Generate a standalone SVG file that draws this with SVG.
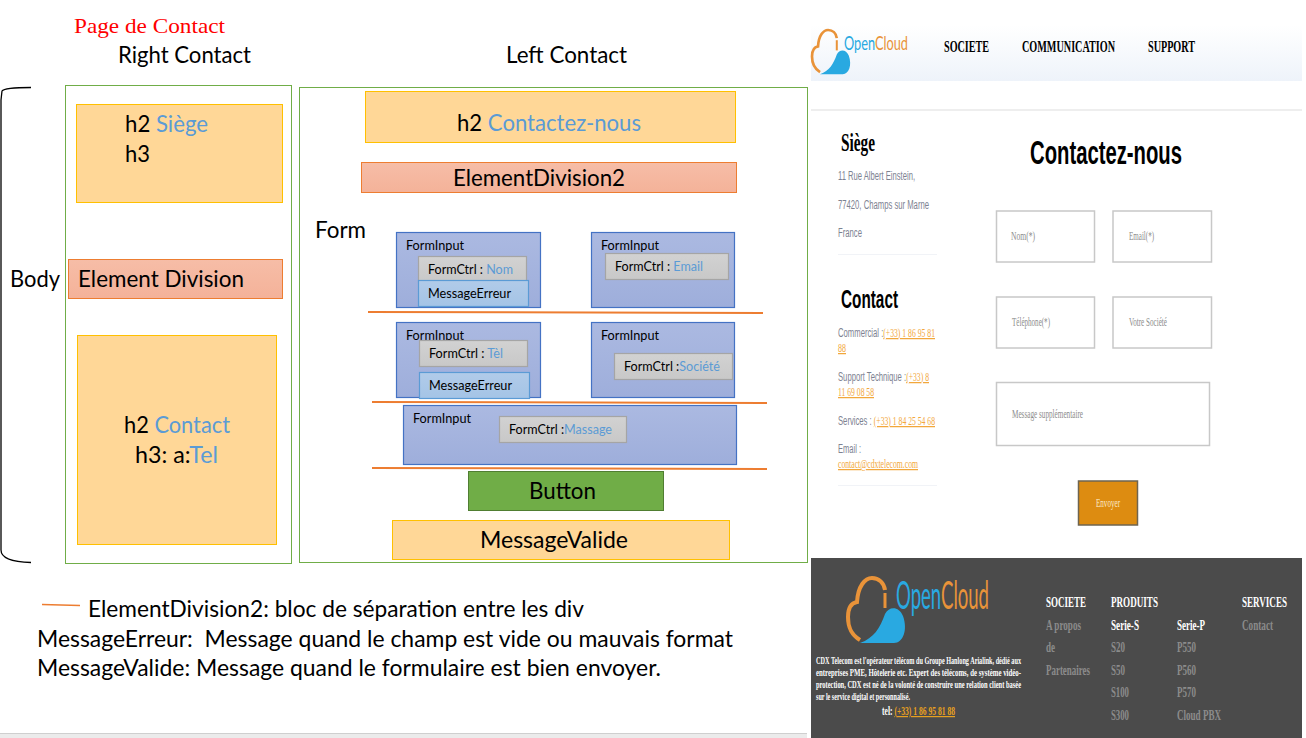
<svg xmlns="http://www.w3.org/2000/svg" width="1306" height="738" viewBox="0 0 1306 738">
<style>
text{font-family:"Lato","Carlito","Open Sans",sans-serif;fill:#000}
.b{fill:#5b9bd5}
.t22{font-size:23px}
.t13{font-size:13px}
.wrap{fill:none;stroke:#70ad47;stroke-width:1}
.y{fill:#ffd797;stroke:#ffc000;stroke-width:1}
.o{fill:url(#go);stroke:#ed7d31;stroke-width:1}
.fi{fill:url(#gfi);stroke:#4472c4;stroke-width:1.2}
.fc{fill:url(#gfc);stroke:#a5a5a5;stroke-width:1.2}
.me{fill:url(#gme);stroke:#5b9bd5;stroke-width:1.2}
.sep{stroke:#ed7d31;stroke-width:2;fill:none}
.g{fill:#7d8291;font-size:12.5px;font-family:"Liberation Sans",sans-serif}
.l{fill:#f2a73c;font-size:12.5px;font-family:"Liberation Serif",serif;text-decoration:underline}
.ph{fill:#8c8c8c;font-size:12.5px;font-family:"Liberation Serif",serif}
.box{fill:#fff;stroke:#c8c8c8;stroke-width:1.5}
.w{fill:#fff;font-family:"Liberation Serif",serif;font-weight:bold}
.d{fill:#8b8b8b;font-family:"Liberation Serif",serif;font-weight:bold;font-size:15px}
</style>
<defs>
<linearGradient id="hdr" x1="0" y1="0" x2="0" y2="1"><stop offset="0" stop-color="#fff"/><stop offset="1" stop-color="#eef3fa"/></linearGradient>
<linearGradient id="go" x1="0" y1="0" x2="0" y2="1"><stop offset="0" stop-color="#f6bda7"/><stop offset="1" stop-color="#f4b299"/></linearGradient>
<linearGradient id="gfi" x1="0" y1="0" x2="0" y2="1"><stop offset="0" stop-color="#abb9e1"/><stop offset="1" stop-color="#9eaedb"/></linearGradient>
<linearGradient id="gfc" x1="0" y1="0" x2="0" y2="1"><stop offset="0" stop-color="#d2d2d2"/><stop offset="1" stop-color="#c8c8c8"/></linearGradient>
<linearGradient id="gme" x1="0" y1="0" x2="0" y2="1"><stop offset="0" stop-color="#b1cbe9"/><stop offset="1" stop-color="#a4c4e6"/></linearGradient>
<g id="cloud"><path d="M12 62C2 56 0 48 0 39C0 30 3 25 9 24C10 8 17 0 24 0C31 0 36 5 37 12" fill="none" stroke="#e99339" stroke-width="4"/><path d="M37 15V30" fill="none" stroke="#e99339" stroke-width="3"/><path d="M12 65C26 60 32 50 37 36C41 28 51 28 55 38C60 52 55 65 46 65Z" fill="#29a9e1"/></g>
</defs>

<g id="title"><text x="74" y="33" style="font-family:'Liberation Serif',serif;font-size:22px;fill:#f00" textLength="151" lengthAdjust="spacingAndGlyphs">Page de Contact</text>
<text x="118" y="63" class="t22" textLength="133" lengthAdjust="spacingAndGlyphs">Right Contact</text>
<text x="506" y="63" class="t22" textLength="121" lengthAdjust="spacingAndGlyphs">Left Contact</text></g>

<g id="body"><path d="M31 87.500C15 87.500 4 88 2 91L1 100V550C1 558 12 562 31 562.500" fill="none" stroke="#000" stroke-width="1.300"/>
<text x="10" y="287" class="t22" textLength="50" lengthAdjust="spacingAndGlyphs">Body</text></g>

<g id="right-contact"><rect class="wrap" x="65.500" y="85.500" width="226" height="478"/></g>
<g id="left-contact"><rect class="wrap" x="299.500" y="87.500" width="508" height="475"/></g>

<g id="siege"><rect class="y" x="76.500" y="104.500" width="206" height="98"/>
<text x="125" y="132" class="t22" textLength="83" lengthAdjust="spacingAndGlyphs">h2 <tspan class="b">Siège</tspan></text><text x="125" y="162" class="t22" textLength="25" lengthAdjust="spacingAndGlyphs">h3</text></g>
<g id="element-division"><rect class="o" x="68.500" y="259.500" width="214" height="39"/>
<text x="78" y="287" class="t22" textLength="166" lengthAdjust="spacingAndGlyphs">Element Division</text></g>
<g id="contact"><rect class="y" x="77.500" y="335.500" width="199" height="209"/>
<text x="124" y="433" class="t22" textLength="106" lengthAdjust="spacingAndGlyphs">h2 <tspan class="b">Contact</tspan></text><text x="135" y="463" class="t22" textLength="83" lengthAdjust="spacingAndGlyphs">h3: a:<tspan class="b">Tel</tspan></text></g>

<g id="contactez"><rect class="y" x="365.500" y="91.500" width="370" height="51"/>
<text x="457" y="131" class="t22" textLength="184" lengthAdjust="spacingAndGlyphs">h2 <tspan class="b">Contactez-nous</tspan></text></g>
<g id="element-division2"><rect class="o" x="361.500" y="162.500" width="375" height="30"/>
<text x="453" y="186" class="t22" textLength="172" lengthAdjust="spacingAndGlyphs">ElementDivision2</text></g>
<g id="form"><text x="315" y="238" class="t22" textLength="51" lengthAdjust="spacingAndGlyphs">Form</text></g>

<g id="input-nom"><rect class="fi" x="396.500" y="232.500" width="144" height="75"/><text x="406" y="250" class="t13" textLength="58" lengthAdjust="spacingAndGlyphs">FormInput</text>
<rect class="fc" x="418.500" y="256.500" width="108" height="26"/><text x="428" y="274" class="t13" textLength="85" lengthAdjust="spacingAndGlyphs">FormCtrl : <tspan class="b">Nom</tspan></text>
<rect class="me" x="418.500" y="280.500" width="110" height="26"/><text x="428" y="298" class="t13" textLength="83" lengthAdjust="spacingAndGlyphs">MessageErreur</text></g>
<g id="input-email"><rect class="fi" x="591.500" y="232.500" width="143" height="75"/><text x="601" y="250" class="t13" textLength="58" lengthAdjust="spacingAndGlyphs">FormInput</text>
<rect class="fc" x="605.500" y="253.500" width="123" height="26"/><text x="615" y="271" class="t13" textLength="88" lengthAdjust="spacingAndGlyphs">FormCtrl : <tspan class="b">Email</tspan></text></g>
<g id="input-tel"><rect class="fi" x="396.500" y="322.500" width="144" height="75"/><text x="406" y="340" class="t13" textLength="58" lengthAdjust="spacingAndGlyphs">FormInput</text>
<rect class="fc" x="419.500" y="340.500" width="108" height="26"/><text x="429" y="358" class="t13" textLength="74" lengthAdjust="spacingAndGlyphs">FormCtrl : <tspan class="b">Tèl</tspan></text>
<rect class="me" x="419.500" y="372.500" width="110" height="26"/><text x="429" y="390" class="t13" textLength="83" lengthAdjust="spacingAndGlyphs">MessageErreur</text></g>
<g id="input-societe"><rect class="fi" x="591.500" y="322.500" width="143" height="75"/><text x="601" y="340" class="t13" textLength="58" lengthAdjust="spacingAndGlyphs">FormInput</text>
<rect class="fc" x="614.500" y="353.500" width="118" height="26"/><text x="624" y="371" class="t13" textLength="96" lengthAdjust="spacingAndGlyphs">FormCtrl :<tspan class="b">Société</tspan></text></g>
<g id="input-message"><rect class="fi" x="403.500" y="405.500" width="333" height="59"/><text x="413" y="423" class="t13" textLength="58" lengthAdjust="spacingAndGlyphs">FormInput</text>
<rect class="fc" x="499.500" y="416.500" width="127" height="26"/><text x="509" y="434" class="t13" textLength="103" lengthAdjust="spacingAndGlyphs">FormCtrl :<tspan class="b">Massage</tspan></text></g>

<g id="connectors"><path class="sep" d="M368 312L763 313"/><path class="sep" d="M372 402L767 403"/><path class="sep" d="M372 468L767 469"/><path d="M42 604.500L80 605.500" stroke="#ed7d31" stroke-width="1.500" fill="none"/></g>

<g id="button"><rect x="468.500" y="471.500" width="195" height="39" fill="#70ad47" stroke="#507e32"/><text x="529" y="499" class="t22" textLength="67" lengthAdjust="spacingAndGlyphs">Button</text></g>
<g id="message-valide"><rect class="y" x="392.500" y="520.500" width="337" height="39"/><text x="480" y="548" class="t22" textLength="148" lengthAdjust="spacingAndGlyphs">MessageValide</text></g>

<g id="legend" style="font-size:23px">
<text x="88" y="617" textLength="496" lengthAdjust="spacingAndGlyphs">ElementDivision2: bloc de séparation entre les div</text>
<text x="37" y="647" textLength="696" lengthAdjust="spacingAndGlyphs" xml:space="preserve">MessageErreur:  Message quand le champ est vide ou mauvais format</text>
<text x="37" y="676" textLength="624" lengthAdjust="spacingAndGlyphs">MessageValide: Message quand le formulaire est bien envoyer.</text>
</g>
<rect x="0" y="733" width="807" height="5" fill="#ebebeb"/><rect x="0" y="733" width="807" height="1" fill="#cfcfcf"/>

<g id="screenshot">
<rect x="811" y="25" width="491" height="56" fill="url(#hdr)"/>
<rect x="811" y="109" width="491" height="2" fill="#eeeeee"/>
<use href="#cloud" transform="translate(812 30) scale(.67 .68)"/>
<text x="844" y="50" style="font-size:20px;fill:#29a9e1" textLength="64" lengthAdjust="spacingAndGlyphs">Open<tspan style="fill:#e99339">Cloud</tspan></text>
<g style="font-family:'Liberation Serif',serif;font-weight:bold;font-size:16px">
<text x="944" y="52" style="font:inherit" textLength="45" lengthAdjust="spacingAndGlyphs">SOCIETE</text>
<text x="1022" y="52" style="font:inherit" textLength="93" lengthAdjust="spacingAndGlyphs">COMMUNICATION</text>
<text x="1148" y="52" style="font:inherit" textLength="47" lengthAdjust="spacingAndGlyphs">SUPPORT</text></g>

<text x="841" y="151" style="font-family:'Liberation Serif',serif;font-weight:bold;font-size:25px" textLength="34" lengthAdjust="spacingAndGlyphs">Siège</text>
<text x="1030" y="164" style="font-family:'Liberation Sans',sans-serif;font-weight:bold;font-size:34px" textLength="152" lengthAdjust="spacingAndGlyphs">Contactez-nous</text>
<text x="838" y="180" class="g" textLength="77" lengthAdjust="spacingAndGlyphs">11 Rue Albert Einstein,</text>
<text x="838" y="209" class="g" textLength="91" lengthAdjust="spacingAndGlyphs">77420, Champs sur Marne</text>
<text x="838" y="237" class="g" textLength="24" lengthAdjust="spacingAndGlyphs">France</text>
<rect x="838" y="254" width="99" height="1" fill="#f1f3f7"/>
<text x="841" y="308" style="font-family:'Liberation Sans',sans-serif;font-weight:bold;font-size:25px" textLength="57" lengthAdjust="spacingAndGlyphs">Contact</text>
<text x="838" y="337" class="g" textLength="97" lengthAdjust="spacingAndGlyphs">Commercial :<tspan class="l">(+33) 1 86 95 81</tspan></text>
<text x="838" y="352" class="l" textLength="8" lengthAdjust="spacingAndGlyphs">88</text>
<text x="838" y="381" class="g" textLength="91" lengthAdjust="spacingAndGlyphs">Support Technique :<tspan class="l">(+33) 8</tspan></text>
<text x="838" y="396" class="l" textLength="36" lengthAdjust="spacingAndGlyphs">11 69 08 58</text>
<text x="838" y="425" class="g" textLength="97" lengthAdjust="spacingAndGlyphs">Services : <tspan class="l">(+33) 1 84 25 54 68</tspan></text>
<text x="838" y="453" class="g" textLength="23" lengthAdjust="spacingAndGlyphs">Email :</text>
<text x="838" y="468" class="l" textLength="80" lengthAdjust="spacingAndGlyphs">contact@cdxtelecom.com</text>
<rect x="838" y="485" width="99" height="1" fill="#f1f3f7"/>

<rect class="box" x="996.500" y="211" width="98" height="51"/><text x="1011" y="240" class="ph" textLength="24" lengthAdjust="spacingAndGlyphs">Nom(*)</text>
<rect class="box" x="1113" y="211" width="98.500" height="51"/><text x="1129" y="240" class="ph" textLength="25" lengthAdjust="spacingAndGlyphs">Email(*)</text>
<rect class="box" x="996.500" y="297" width="98" height="51"/><text x="1012" y="326" class="ph" textLength="38" lengthAdjust="spacingAndGlyphs">Téléphone(*)</text>
<rect class="box" x="1113" y="297" width="98.500" height="51"/><text x="1129" y="326" class="ph" textLength="38" lengthAdjust="spacingAndGlyphs">Votre Société</text>
<rect class="box" x="996.500" y="382.500" width="213" height="63"/><text x="1012" y="418" class="ph" textLength="71" lengthAdjust="spacingAndGlyphs">Message supplémentaire</text>
<rect x="1078.500" y="481" width="59" height="44" fill="#dd8c11" stroke="#6e6450" stroke-width="1.500"/>
<text x="1096" y="507" style="font-family:'Liberation Serif',serif;font-size:12.500px;fill:#fbe9c8" textLength="24" lengthAdjust="spacingAndGlyphs">Envoyer</text>

<rect x="811" y="558" width="491" height="180" fill="#4b4b4b"/>
<use href="#cloud" transform="translate(848 578)"/>
<text x="896" y="609" style="font-size:38px;fill:#29a9e1" textLength="93" lengthAdjust="spacingAndGlyphs">Open<tspan style="fill:#e99339">Cloud</tspan></text>
<text x="816" y="664" class="w" style="font-size:10.500px" textLength="205" lengthAdjust="spacingAndGlyphs">CDX Telecom est l'opérateur télécom du Groupe Hanlong Arialink, dédié aux</text>
<text x="816" y="676" class="w" style="font-size:10.500px" textLength="205" lengthAdjust="spacingAndGlyphs">entreprises PME, Hôtelerie etc. Expert des télécoms, de système vidéo-</text>
<text x="816" y="688" class="w" style="font-size:10.500px" textLength="205" lengthAdjust="spacingAndGlyphs">protection, CDX est né de la volonté de construire une relation client basée</text>
<text x="816" y="700" class="w" style="font-size:10.500px" textLength="94" lengthAdjust="spacingAndGlyphs">sur le service digital et personnalisé.</text>
<text x="882" y="715" class="w" style="font-size:12px" textLength="73" lengthAdjust="spacingAndGlyphs">tel: <tspan style="fill:#e8a020;text-decoration:underline">(+33) 1 86 95 81 88</tspan></text>
<text x="1046" y="607" class="w" style="font-size:14.500px" textLength="40" lengthAdjust="spacingAndGlyphs">SOCIETE</text>
<text x="1111" y="607" class="w" style="font-size:14.500px" textLength="47" lengthAdjust="spacingAndGlyphs">PRODUITS</text>
<text x="1242" y="607" class="w" style="font-size:14.500px" textLength="45" lengthAdjust="spacingAndGlyphs">SERVICES</text>
<text x="1111" y="630" class="w" style="font-size:14.500px" textLength="28" lengthAdjust="spacingAndGlyphs">Serie-S</text>
<text x="1177" y="630" class="w" style="font-size:14.500px" textLength="28" lengthAdjust="spacingAndGlyphs">Serie-P</text>
<text x="1046" y="630" class="d" textLength="35" lengthAdjust="spacingAndGlyphs">A propos</text>
<text x="1046" y="652" class="d" textLength="9" lengthAdjust="spacingAndGlyphs">de</text>
<text x="1046" y="675" class="d" textLength="44" lengthAdjust="spacingAndGlyphs">Partenaires</text>
<text x="1242" y="630" class="d" textLength="31" lengthAdjust="spacingAndGlyphs">Contact</text>
<text x="1111" y="652" class="d" textLength="14" lengthAdjust="spacingAndGlyphs">S20</text>
<text x="1111" y="675" class="d" textLength="14" lengthAdjust="spacingAndGlyphs">S50</text>
<text x="1111" y="697" class="d" textLength="18" lengthAdjust="spacingAndGlyphs">S100</text>
<text x="1111" y="720" class="d" textLength="18" lengthAdjust="spacingAndGlyphs">S300</text>
<text x="1177" y="652" class="d" textLength="19" lengthAdjust="spacingAndGlyphs">P550</text>
<text x="1177" y="675" class="d" textLength="19" lengthAdjust="spacingAndGlyphs">P560</text>
<text x="1177" y="697" class="d" textLength="19" lengthAdjust="spacingAndGlyphs">P570</text>
<text x="1177" y="720" class="d" textLength="44" lengthAdjust="spacingAndGlyphs">Cloud PBX</text>
</g>
</svg>
